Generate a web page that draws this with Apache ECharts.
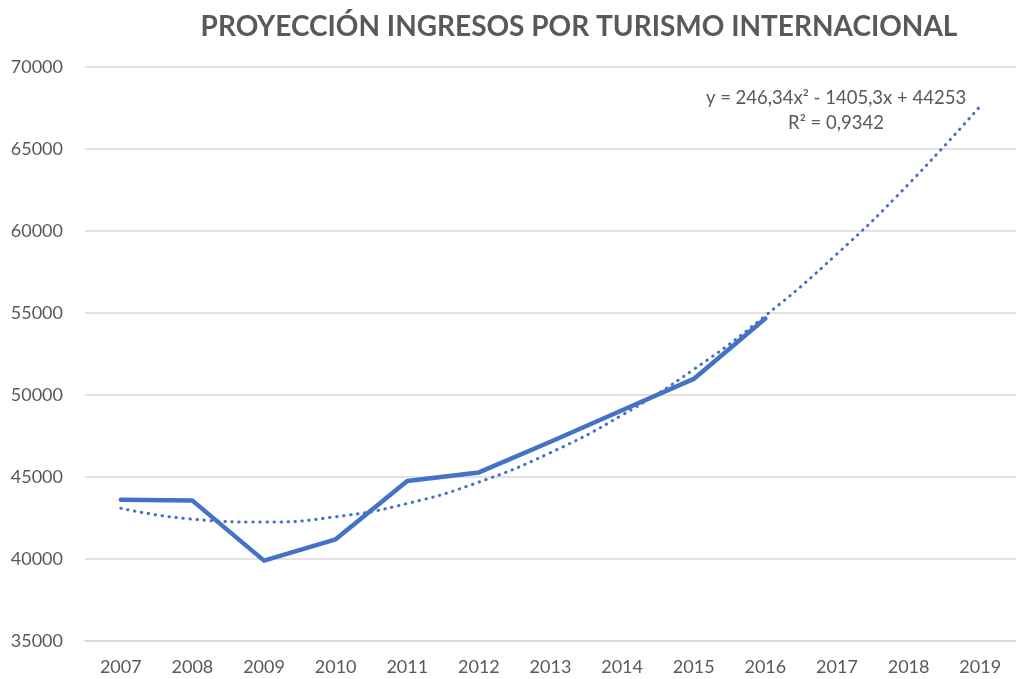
<!DOCTYPE html>
<html>
<head>
<meta charset="utf-8">
<script src="https://cdn.jsdelivr.net/npm/echarts@6/dist/echarts.min.js"></script>
<style>
  html, body { margin: 0; padding: 0; background: #fff; }
  #chart { width: 1016px; height: 679px; }
</style>
</head>
<body>
<div id="chart"></div>
<script>
// años del eje x
const years = ['2007', '2008', '2009', '2010', '2011', '2012', '2013', '2014', '2015', '2016', '2017', '2018', '2019']
// ingresos observados (2007-2016)
const ingresos = [43620, 43560, 39900, 41200, 44750, 45280, 47150, 49070, 50980, 54660]
// linea de tendencia polinomica
const tendencia = [43094, 42428, 42254, 42573, 43385, 44689, 46487, 48776, 51559, 54834, 58602, 62862, 67616]
const equationLines = ['y = 246,34x² - 1405,3x + 44253', 'R² = 0,9342']

const grey = '#595959'
const blue = '#4472C4'
const font = 'Lato, "Open Sans", sans-serif'

let myChart = echarts.init(document.getElementById('chart'))
let option = {
  backgroundColor: '#fff',
  animation: false,
  title: {
    text: 'PROYECCIÓN INGRESOS POR TURISMO INTERNACIONAL',
    left: 574,
    top: 8,
    textAlign: 'center',
    textStyle: {
      color: grey,
      fontSize: 28,
      fontWeight: 'bold',
      fontFamily: font
    }
  },
  grid: {
    left: 85,
    top: 67,
    width: 938,
    height: 574
  },
  xAxis: {
    type: 'category',
    data: years,
    boundaryGap: true,
    axisLine: { lineStyle: { color: '#d9d9d9', width: 1.5 } },
    axisTick: { show: false },
    axisLabel: {
      color: grey,
      fontSize: 18,
      fontFamily: font,
      margin: 17
    }
  },
  yAxis: {
    type: 'value',
    min: 35000,
    max: 70000,
    interval: 5000,
    axisLine: { show: false },
    axisTick: { show: false },
    axisLabel: {
      color: grey,
      fontSize: 18,
      fontFamily: font,
      margin: 22,
      formatter: v => String(v)
    },
    splitLine: { lineStyle: { color: '#d9d9d9', width: 1.5 } }
  },
  graphic: equationLines.map((t, i) => ({
    type: 'text',
    x: 836,
    y: 98 + i * 25,
    style: {
      text: t,
      fill: grey,
      fontSize: 18.5,
      fontFamily: font,
      align: 'center',
      verticalAlign: 'middle'
    }
  })),
  series: [
    {
      name: 'Tendencia',
      type: 'line',
      data: tendencia,
      smooth: true,
      showSymbol: false,
      z: 1,
      lineStyle: {
        color: blue,
        width: 3,
        type: [0.5, 6.5],
        cap: 'round'
      }
    },
    {
      name: 'Ingresos',
      type: 'line',
      data: ingresos,
      showSymbol: false,
      z: 2,
      lineStyle: {
        color: blue,
        width: 4.5,
        cap: 'round',
        join: 'round'
      }
    }
  ]
}
myChart.setOption(option)
</script>
</body>
</html>
